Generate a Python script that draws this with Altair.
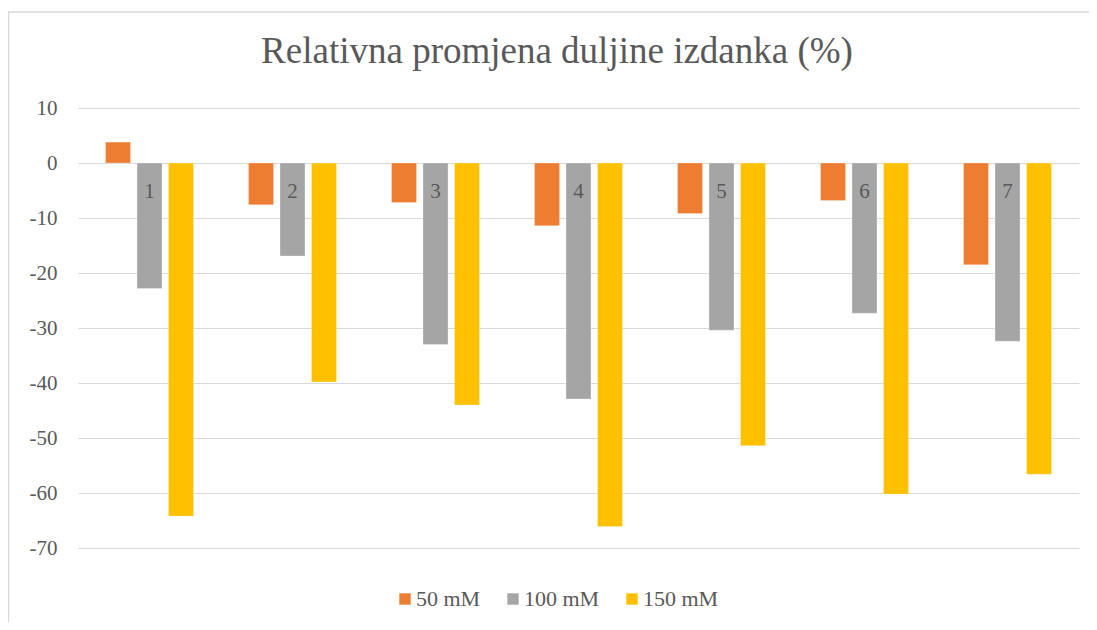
import altair as alt
import pandas as pd

categories = ["1", "2", "3", "4", "5", "6", "7"]
series = ["50 mM", "100 mM", "150 mM"]
v50 = [3.8, -7.6, -7.2, -11.4, -9.2, -6.8, -18.5]
v100 = [-22.8, -16.9, -33.0, -42.9, -30.4, -27.3, -32.4]
v150 = [-64.2, -39.8, -44.0, -66.1, -51.4, -60.2, -56.6]
y_ticks = [-70, -60, -50, -40, -30, -20, -10, 0, 10]
colors = ["#ED7D31", "#A5A5A5", "#FFC000"]
title_text = "Relativna promjena duljine izdanka (%)"

rows = []
for s, vals in zip(series, [v50, v100, v150]):
    for c, v in zip(categories, vals):
        rows.append({"cat": c, "series": s, "value": v})
df = pd.DataFrame(rows)

FONT = "Liberation Serif, Times New Roman, serif"
TXT = "#595959"
FS = 21

xscale = alt.Scale(paddingInner=0.385, paddingOuter=0.1925)
yscale = alt.Scale(domain=[-70, 10], nice=False)
xoff = alt.XOffset("series:N", sort=series,
                   scale=alt.Scale(paddingInner=0.206, paddingOuter=0))

bars = alt.Chart(df).mark_bar(stroke="#ffffff", strokeOpacity=0.35, strokeWidth=0.8).encode(
    x=alt.X("cat:N", sort=categories, scale=xscale, axis=None),
    xOffset=xoff,
    y=alt.Y("value:Q", scale=yscale,
            axis=alt.Axis(values=y_ticks, title=None, domain=False, ticks=False,
                          labelExpr="'' + datum.value",
                          labelFont=FONT, labelFontSize=FS, labelColor=TXT,
                          labelPadding=21, gridColor="#d9d9d9", gridWidth=1.2)),
    color=alt.Color("series:N", sort=series,
                    scale=alt.Scale(domain=series, range=colors),
                    legend=alt.Legend(title=None, orient="none", direction="horizontal",
                                      legendX=316, legendY=480,
                                      symbolType="square", symbolSize=130,
                                      symbolStrokeWidth=0,
                                      labelFont=FONT, labelFontSize=22, labelColor=TXT,
                                      labelOffset=0, columnPadding=21)),
)

labels = alt.Chart(df).transform_filter(
    alt.datum.series == series[1]
).mark_text(
    dy=29, fontSize=FS, font=FONT, color=TXT, baseline="middle"
).encode(
    x=alt.X("cat:N", sort=categories, scale=xscale, axis=None),
    xOffset=xoff,
    y=alt.datum(0),
    text=alt.Text("cat:N"),
)

title = alt.Chart(alt.Data(values=[{"t": title_text}])).mark_text(
    font=FONT, fontSize=37, color=TXT, baseline="alphabetic", align="center"
).encode(
    x=alt.value(479), y=alt.value(-45), text="t:N"
)

border_top = alt.Chart(alt.Data(values=[{}])).mark_rule(color="#d9d9d9", strokeWidth=1.5).encode(
    x=alt.value(-70), x2=alt.value(1011), y=alt.value(-96)
)
border_left = alt.Chart(alt.Data(values=[{}])).mark_rule(color="#d9d9d9", strokeWidth=1.5).encode(
    x=alt.value(-69.5), y=alt.value(-96), y2=alt.value(514)
)

chart = alt.layer(bars, labels, title, border_top, border_left).properties(
    width=1001,
    height=440,
    autosize=alt.AutoSizeParams(type="none"),
    padding={"left": 70, "top": 100, "right": 10, "bottom": 74},
).configure_view(stroke=None)

chart.save("out.html", embed_options={"renderer": "svg", "actions": False})
